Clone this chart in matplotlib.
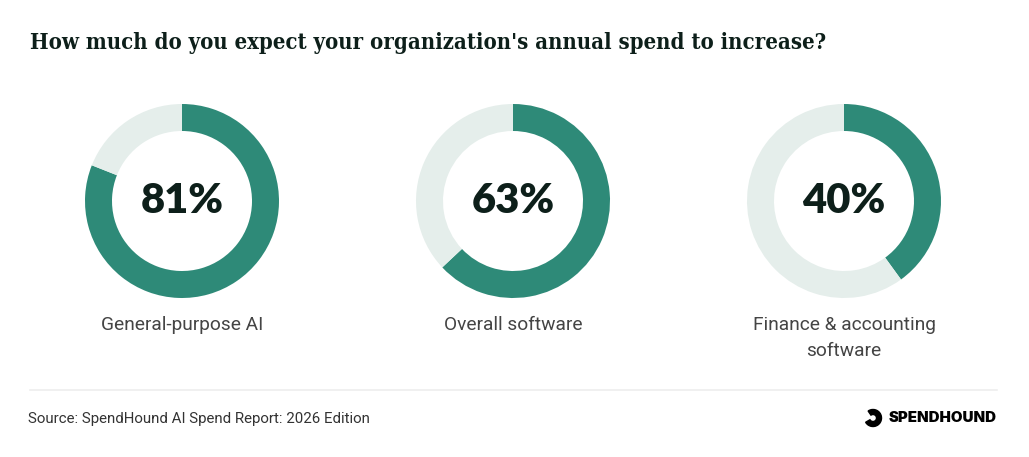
import matplotlib.pyplot as plt
from matplotlib.patches import Wedge

# data
labels = ["General-purpose AI", "Overall software", "Finance & accounting\nsoftware"]
shares = [81, 63, 40]

title = "How much do you expect your organization's annual spend to increase?"
source = "Source: SpendHound AI Spend Report: 2026 Edition"

green = "#2e8a78"
light = "#e5eeeb"
W, H = 1029, 457

fig = plt.figure(figsize=(W / 100, H / 100), dpi=100)
ax = fig.add_axes([0, 0, 1, 1])

fig.text(30 / W, 1 - 43 / H, title, fontsize=15.8, fontweight="bold",
         family="DejaVu Serif", fontstretch="condensed", color="#0d1f1a",
         va="center", ha="left")

centers = [182, 513, 844]
for cx, val, lab in zip(centers, shares, labels):
    ax.pie([val, 100 - val], colors=[green, light], startangle=90,
           counterclock=False, radius=97, center=(cx, H - 201),
           wedgeprops=dict(width=27, linewidth=0), frame=True)
    ax.text(cx, H - 201, f"{val}%", fontsize=30, fontweight="heavy",
            family="Lato", color="#0d1f1a", ha="center", va="center")
    ax.text(cx, H - 316, lab, fontsize=13.8, family="Roboto", color="#444444",
            ha="center", va="top", linespacing=1.55)

ax.set_xlim(0, W)
ax.set_ylim(0, H)
ax.set_aspect("equal")
ax.axis("off")

ax.plot([30, 997], [H - 390, H - 390], color="#eeeeee", lw=1.2)
ax.text(28, H - 419, source, fontsize=10.8, family="Roboto", color="#333333",
        ha="left", va="center")

# logo
ax.add_patch(Wedge((873, H - 418), 8.5, -150, 125, width=5, color="black"))
ax.text(889, H - 418, "SPENDHOUND", fontsize=10.8, fontweight="black",
        family="Inter", color="black", ha="left", va="center")

fig.savefig("out.png", dpi=100)
